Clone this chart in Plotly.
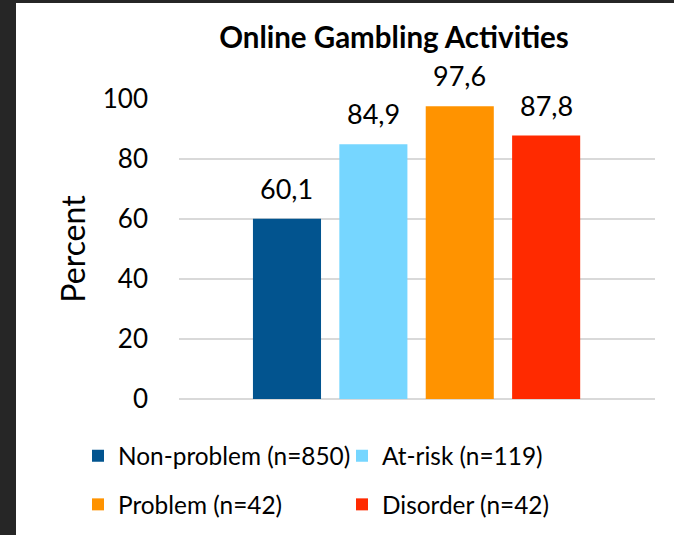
import plotly.graph_objects as go

groups = ["Non-problem (n=850)", "At-risk (n=119)", "Problem (n=42)", "Disorder (n=42)"]
values = [60.1, 84.9, 97.6, 87.8]
colors = ["#02548F", "#76D6FF", "#FF9300", "#FF2A00"]
yticks = [0, 20, 40, 60, 80, 100]

W, H = 674, 535
L, R, T, B = 179, 19, 99, 136
PW, PH = W - L - R, H - T - B


def px2x(px):
    return (px - L) / PW


def py2y(py):
    return (H - B - py) / PH


FONT = "Lato"
fig = go.Figure()
legend_names = ["legend", "legend2", "legend3", "legend4"]
for name, v, c, lg in zip(groups, values, colors, legend_names):
    fig.add_trace(go.Bar(
        x=[name], y=[v], name=name, marker=dict(color=c, line=dict(width=0)),
        legend=lg, hoverinfo="skip",
    ))

# value labels above bars, positioned through the axes
annotations = []
for name, v in zip(groups, values):
    annotations.append(dict(
        x=name, y=v, xref="x", yref="y", text=f"{v:.1f}".replace(".", ","),
        showarrow=False, yanchor="bottom", xanchor="center", yshift=12,
        font=dict(family=FONT, size=27, color="#000000"),
    ))

# legend positions (pixel -> paper)
leg_px = [(78, 456), (342, 456), (78, 504.5), (342, 504.5)]
legends = {}
for lg, (lx, ly) in zip(legend_names, leg_px):
    legends[lg] = dict(
        x=px2x(lx), y=py2y(ly), xanchor="left", yanchor="middle",
        orientation="h", bgcolor="rgba(0,0,0,0)",
        font=dict(family=FONT, size=24.4, color="#000000"),
    )

fig.update_layout(
    width=W, height=H,
    margin=dict(l=L, r=R, t=T, b=B, pad=0, autoexpand=False),
    paper_bgcolor="#262626", plot_bgcolor="#FFFFFF",
    barmode="overlay", bargap=0.212,
    showlegend=True,
    title=dict(text="<b>Online Gambling Activities</b>", x=px2x(394), xref="paper",
               y=1 - 38 / H, yref="container", xanchor="center", yanchor="middle",
               font=dict(family=FONT, size=29.5, color="#000000")),
    xaxis=dict(showticklabels=False, showgrid=False, zeroline=False, showline=False,
               range=[-1.25, 4.26], fixedrange=True, automargin=False),
    yaxis=dict(range=[0, 100], tickvals=yticks, ticktext=[str(t) for t in yticks],
               showgrid=True, gridcolor="#D9D9D9", gridwidth=1.5,
               zeroline=True, zerolinecolor="#D9D9D9", zerolinewidth=1.5,
               showline=False, ticks="", ticklabelstandoff=30, fixedrange=True,
               automargin=False,
               tickfont=dict(family=FONT, size=26, color="#000000"),
               title=dict(text="Percent", font=dict(family=FONT, size=32, color="#000000"), standoff=7)),
    annotations=annotations,
    shapes=[dict(type="rect", xref="paper", yref="paper", layer="below",
                 x0=px2x(16), x1=px2x(W + 5), y0=py2y(3), y1=py2y(H + 5),
                 fillcolor="#FFFFFF", line=dict(width=0))],
    **legends,
)

fig.write_html(
    "out.html",
    config={"displayModeBar": False, "staticPlot": True},
    post_script=("document.documentElement.style.margin='0px';"
                 "document.documentElement.style.overflow='hidden';"
                 "document.body.style.margin='0px';document.body.style.overflow='hidden';"
                 "window.scrollTo(0,0);"),
)
